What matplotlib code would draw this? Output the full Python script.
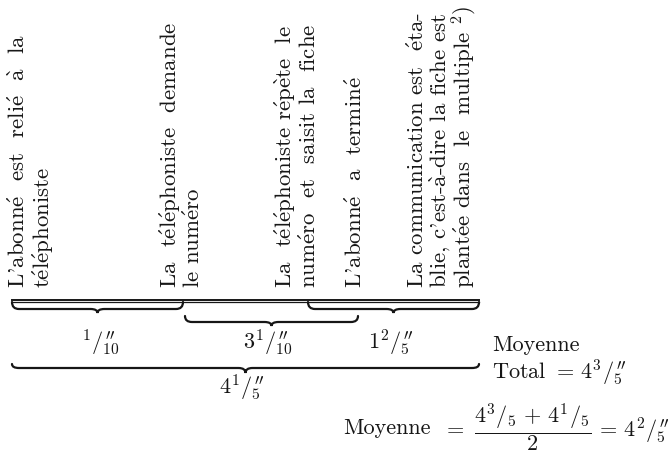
import matplotlib
matplotlib.use("Agg")
import matplotlib.pyplot as plt
from matplotlib.path import Path
from matplotlib.patches import PathPatch

plt.rcParams['font.family'] = ['cmr10', 'DejaVu Serif']
plt.rcParams['mathtext.fontset'] = 'cm'
plt.rcParams['mathtext.default'] = 'rm'
plt.rcParams['axes.unicode_minus'] = False

# ---------------- data
events = [
    ["L'abonné  est  relié  à  la", "téléphoniste"],
    ["La  téléphoniste  demande", "le numéro"],
    ["La  téléphoniste répète  le", "numéro  et  saisit la  fiche"],
    ["L'abonné  a  terminé"],
    ["La communication est  éta-", "blie, c'est-à-dire la fiche est",
     "plantée dans  le  multiple $^{2}$)"],
]
# durations as (whole, numerator, denominator) in seconds
step_durations = [(0, 1, 10), (3, 1, 10), (1, 2, 5)]
total_duration = (4, 1, 5)
moyenne_total = (4, 3, 5)
moyenne = (4, 2, 5)

# ---------------- layout (pixels)
col_x = [[18, 43], [170, 193], [285, 309], [355], [417, 440, 464]]
text_base = 288
# x0, x1, y_end, y_line, y_tip
braces = [(12, 183, 302, 309, 313), (185, 358, 316, 322, 326),
          (308, 479, 302, 309, 313), (12, 479, 364, 368, 373)]
label_pos = [(100, 343), (268, 343), (391, 343), (242, 388)]
ink = '#161616'

accents = {'é': r'$\acute{e}$', 'è': r'$\grave{e}$', 'à': r'$\grave{a}$'}


def fr(s):
    # cmr10 has no accented letters, build them with mathtext accents
    return ''.join(accents.get(c, c) for c in s)


def frac(v, prime=True):
    whole, num, den = v
    w = str(whole) if whole else "{}"
    s = w + "^{%d}/_{%d}" % (num, den)
    if prime:
        s += "''"
    return s


def brace(ax, x0, x1, ye, yl, yt, lw=1.6):
    xm = (x0 + x1) / 2
    r = 7
    verts = [(x0, ye), (x0, yl), (x0 + r, yl),
             (xm - r, yl), (xm, yl), (xm, yt),
             (xm, yl), (xm + r, yl),
             (x1 - r, yl), (x1, yl), (x1, ye)]
    codes = [Path.MOVETO, Path.CURVE3, Path.CURVE3,
             Path.LINETO, Path.CURVE3, Path.CURVE3,
             Path.CURVE3, Path.CURVE3,
             Path.LINETO, Path.CURVE3, Path.CURVE3]
    ax.add_patch(PathPatch(Path(verts, codes), fill=False, lw=lw,
                           edgecolor=ink, capstyle='round'))


fig = plt.figure(figsize=(6.72, 4.62), dpi=100)
ax = fig.add_axes([0, 0, 1, 1])
ax.set_xlim(0, 672)
ax.set_ylim(462, 0)
ax.axis('off')

for lines, xs in zip(events, col_x):
    for line, x in zip(lines, xs):
        ax.text(x, text_base, fr(line), rotation=90, rotation_mode='anchor',
                ha='left', va='center', fontsize=16.5, color=ink)

# double rule under the events
ax.plot([12, 479], [299.5, 299.5], color=ink, lw=1.4)
ax.plot([12, 479], [302.3, 302.3], color=ink, lw=0.9)

for b in braces:
    brace(ax, *b)

labels = [frac(d) for d in step_durations] + [frac(total_duration)]
for lab, (x, y) in zip(labels, label_pos):
    ax.text(x, y, "$" + lab + "$", ha='center', va='center', fontsize=16,
            color=ink)

ax.text(492, 345, "Moyenne", ha='left', va='center', fontsize=16, color=ink)
ax.text(492, 373, r"Total $=\,$" + "$" + frac(moyenne_total) + "$",
        ha='left', va='center', fontsize=16, color=ink)

ax.text(343, 428, "Moyenne", ha='left', va='center', fontsize=16, color=ink)
ax.text(443, 428, r"$=\ \dfrac{" + frac(moyenne_total, False) + r"\,+\,"
        + frac(total_duration, False) + r"}{2}\,=\," + frac(moyenne) + "$",
        ha='left', va='center', fontsize=16, color=ink)

fig.savefig("out.png", dpi=100, facecolor='white')
